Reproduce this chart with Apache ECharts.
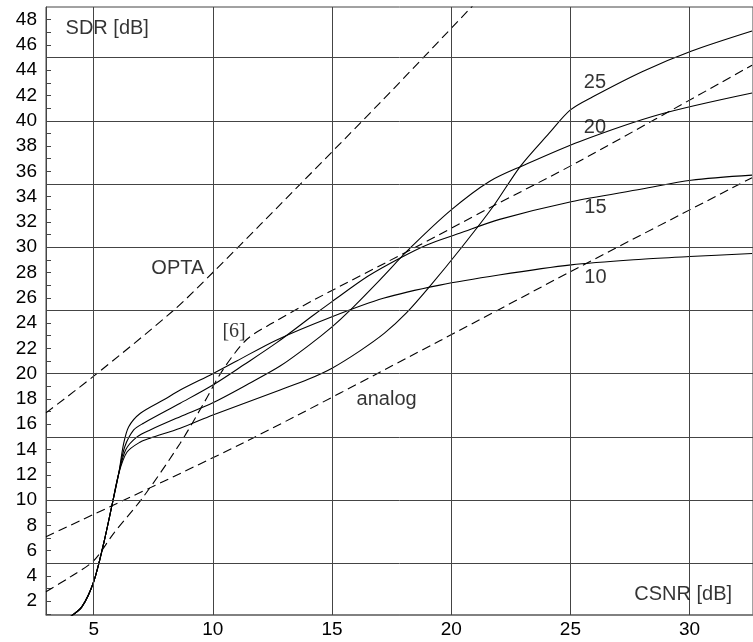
<!DOCTYPE html>
<html><head><meta charset="utf-8">
<script src="https://cdn.jsdelivr.net/npm/echarts@6/dist/echarts.min.js"></script>
<style>html,body{margin:0;padding:0;background:#fff}#c{width:753px;height:642px}</style>
</head><body><div id="c"></div>
<script>
// axis / tick values
const xLabelValues = [5, 10, 15, 20, 25, 30];
const yTickValues = [1,2,3,4,5,6,7,8,9,10,11,12,13,14,15,16,17,18,19,20,21,22,23,24,25,26,27,28,29,30,31,32,33,34,35,36,37,38,39,40,41,42,43,44,45,46,47,48];
const yLabelValues = [2,4,6,8,10,12,14,16,18,20,22,24,26,28,30,32,34,36,38,40,42,44,46,48];
const xGridValues = [5, 10, 15, 20, 25, 30];
const yGridValues = [5, 10, 15, 20, 25, 30, 35, 40, 45];

// shared steep start of the four solid curves [CSNR, SDR]
const commonStart = [[4.0,0.75],[4.51,1.57],[5.0,3.54],[5.42,6.58],[5.77,9.61],[6.05,12.1]];
const curve10 = [[6.25,14.4],[6.47,15.8],[6.96,16.87],[8.0,18.0],[8.63,18.7],[10,20.0],[11,21.0],[12.68,22.67],[15,24.5],[17.15,25.96],[19.52,27.0],[22,27.8],[25.03,28.6],[28,29.05],[30,29.26],[32.62,29.5]];
const curve15 = [[6.3,14.2],[6.68,15.55],[7.09,16.08],[8.63,17.66],[10,19.1],[11.3,20.7],[12.68,22.45],[14.2,24.6],[15,25.7],[16.5,27.7],[17.84,29.13],[19,30.2],[20.35,31.1],[22.03,32.2],[25.03,33.6],[28,34.6],[30.06,35.3],[32.62,35.7]];
const curve20 = [[6.35,14.0],[6.82,15.0],[7.37,15.55],[8.63,16.6],[10,17.7],[11.5,19.2],[12.82,20.6],[14,22.2],[15,23.7],[15.75,25.0],[17,27.4],[18.26,29.9],[20.0,32.95],[21.6,35.2],[23.0,36.45],[25.37,38.35],[28.73,40.5],[32.62,42.2]];
const curve25 = [[6.4,13.8],[6.96,14.6],[7.37,14.9],[8.63,15.68],[10,16.73],[12.82,18.71],[14,19.55],[15,20.43],[16.17,21.8],[17.2,23.2],[18.12,24.8],[19.1,26.9],[20.4,29.9],[21.75,33.2],[22.9,36.4],[24.1,39.0],[25,40.86],[25.94,41.9],[28.03,43.9],[30.06,45.5],[32.62,47.1]];
const opta = [[3,16.9],[5,19.8],[8.35,25.0],[10,28.0],[12,31.8],[17,41.4],[20.85,49.0],[21.5,50.3]];
const ref6 = [[3,2.75],[4,3.9],[5,5.2],[5.84,7.37],[7.09,10.27],[8.63,14.5],[9.6,17.6],[10.42,20.3],[11.42,22.7],[12.5,24.0],[14.21,25.8],[18.4,29.9],[21.6,33.1],[25.37,36.8],[32.62,44.4]];
const analog = [[3,7.1],[11.14,14.4],[19.52,22.6],[25.24,28.3],[32.62,35.5]];

// annotation texts [x, y, text]
const curveLabels = [[26.03,43.04,'25'],[26.03,39.48,'20'],[26.05,33.15,'15'],[26.05,27.61,'10'],[8.53,28.32,'OPTA'],[17.29,17.92,'analog']];
const refLabel = [[10.89,23.34,'[6]']];
const axisTitles = [[3.82,47.3,'SDR [dB]','left'],[31.78,2.52,'CSNR [dB]','right']];

const FONT = 'Liberation Sans';
const solid = {color:'#000', width:1.1, type:'solid'};
const dashed = {color:'#000', width:1.1, type:[9,5]};

function curveSeries(data){
  return {type:'line', data: commonStart.concat(data), showSymbol:false, symbol:'none',
    smooth:0.3, lineStyle: solid, z:3, silent:true};
}
function dashSeries(data){
  return {type:'line', data: data, showSymbol:false, symbol:'none', smooth:0.3, lineStyle: dashed, z:3, silent:true};
}

const textItems = curveLabels.map(d => ({value:[d[0],d[1]], text:d[2]}))
  .concat(refLabel.map(d => ({value:[d[0],d[1]], text:d[2], label:{fontFamily:'Liberation Serif'}})))
  .concat(axisTitles.map(d => ({value:[d[0],d[1]], text:d[2], label:{align:d[3]}})));

const chart = echarts.init(document.getElementById('c'), null, {renderer:'canvas'});
chart.setOption({
  animation:false,
  backgroundColor:'#fff',
  grid:{left:46, top:7, right:-1, bottom:27, show:true, borderColor:'#444', borderWidth:1, containLabel:false},
  xAxis:{type:'value', min:3, max:32.66,
    axisLine:{show:true, onZero:false, lineStyle:{color:'#777', width:1.5}},
    axisTick:{show:false},
    splitLine:{show:false},
    axisLabel:{customValues:xLabelValues, color:'#000', fontSize:19, fontFamily:FONT, margin:5}},
  yAxis:{type:'value', min:0.91, max:49.0,
    axisLine:{show:true, onZero:false, lineStyle:{color:'#444', width:1}},
    axisTick:{show:true, inside:true, length:5, customValues:yTickValues, lineStyle:{color:'#444'}},
    splitLine:{show:false},
    axisLabel:{customValues:yLabelValues, color:'#000', fontSize:19, fontFamily:FONT, margin:9}},
  series:[
    {type:'line', data:[], silent:true, z:1,
      markLine:{silent:true, symbol:['none','none'], label:{show:false}, animation:false,
        lineStyle:{color:'#444', width:1, type:'solid'},
        emphasis:{disabled:true},
        data: xGridValues.map(v=>({xAxis:v})).concat(yGridValues.map(v=>({yAxis:v})))}},
    curveSeries(curve10), curveSeries(curve15), curveSeries(curve20), curveSeries(curve25),
    dashSeries(opta), dashSeries(ref6), dashSeries(analog),
    {type:'scatter', silent:true, z:5, symbol:'circle', symbolSize:1, itemStyle:{color:'rgba(0,0,0,0)'},
      data:textItems,
      label:{show:true, position:'inside', color:'#000', fontSize:20, fontFamily:FONT,
        formatter: p => p.data.text}}
  ]
});
</script></body></html>
